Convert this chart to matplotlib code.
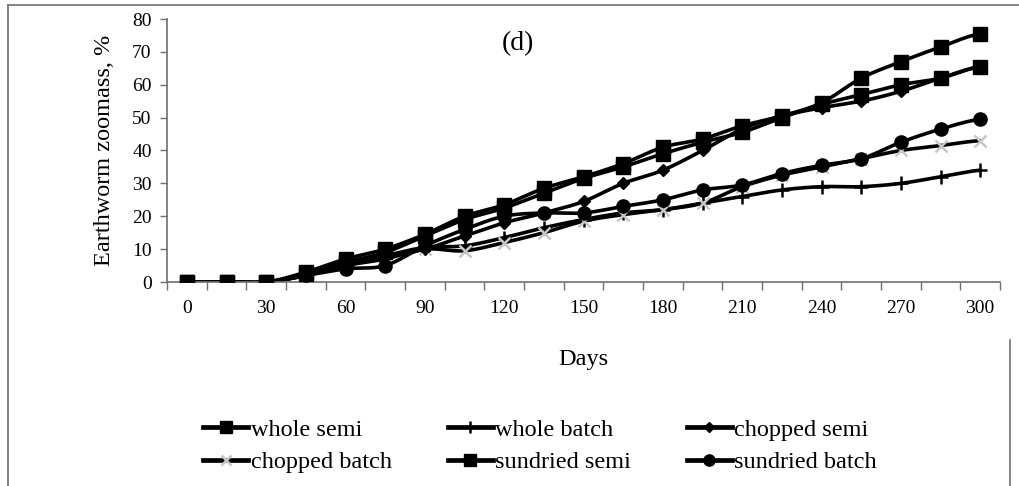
import numpy as np
import matplotlib
matplotlib.use("Agg")
import matplotlib.pyplot as plt
from matplotlib.lines import Line2D

days = list(range(0, 301, 15))
whole_semi = [0, 0, 0, 3, 7, 10, 14.5, 20, 23.5, 28.5, 32, 36, 41, 43.5, 47.5, 50.5, 54.5, 62, 67, 71.5, 75.5]
whole_batch = [0, 0, 0, 2, 5, 8, 10.5, 11, 13.5, 16.5, 19, 21, 22, 24, 26, 28, 29, 29, 30, 32, 34]
chopped_semi = [0, 0, 0, 2, 5, 7.5, 10, 14, 18, 21, 24.5, 30, 34, 40, 46.5, 50.5, 53, 55, 58, 62, 65.5]
chopped_batch = [0, 0, 0, 2, 5, 7, 10, 9.5, 12, 15, 18.5, 20.5, 22, 24, 29, 32.5, 35, 37.5, 40, 41.5, 43]
sundried_semi = [0, 0, 0, 2.5, 6, 9, 14, 19, 22.5, 27, 31.5, 35, 39, 42.5, 45.5, 50, 54, 57, 60, 62, 65.5]
sundried_batch = [0, 0, 0, 2, 4, 5, 11, 16, 20, 21, 21, 23, 25, 28, 29.5, 33, 35.5, 37.5, 42.5, 46.5, 49.5]
labels = ["whole semi", "whole batch", "chopped semi", "chopped batch", "sundried semi", "sundried batch"]

plt.rcParams['font.family'] = ['Liberation Serif', 'DejaVu Serif']

def smooth(x, y, n=20):
    x = np.asarray(x, float); y = np.asarray(y, float)
    px = np.concatenate([[2 * x[0] - x[1]], x, [2 * x[-1] - x[-2]]])
    py = np.concatenate([[y[0]], y, [y[-1]]])
    xs, ys = [], []
    t = np.linspace(0, 1, n, endpoint=False)
    for i in range(1, len(px) - 2):
        p0, p1, p2, p3 = [np.array([px[j], py[j]]) for j in (i - 1, i, i + 1, i + 2)]
        c1 = p1 + (p2 - p0) / 6
        c2 = p2 - (p3 - p1) / 6
        b = ((1 - t) ** 3)[:, None] * p1 + (3 * (1 - t) ** 2 * t)[:, None] * c1 + \
            (3 * (1 - t) * t ** 2)[:, None] * c2 + (t ** 3)[:, None] * p2
        xs.extend(b[:, 0]); ys.extend(b[:, 1])
    xs.append(x[-1]); ys.append(y[-1])
    return np.array(xs), np.array(ys)

W, H = 1019, 486
fig = plt.figure(figsize=(W / 100, H / 100), dpi=100)
ax = fig.add_axes([167 / W, 1 - 282 / H, (1000 - 167) / W, (282 - 19) / H])

series = [whole_semi, whole_batch, chopped_semi, chopped_batch, sundried_semi, sundried_batch]
styles = [
    dict(marker='s', ms=10, mfc='black', mec='black'),
    dict(marker='+', ms=10, mew=1.8, mfc='black', mec='black'),
    dict(marker='D', ms=6.5, mfc='black', mec='black'),
    dict(marker='x', ms=8, mew=1.8, mfc='#c8c8c8', mec='#c8c8c8'),
    dict(marker='s', ms=10, mfc='black', mec='black'),
    dict(marker='o', ms=9.5, mfc='black', mec='black'),
]
lw = 2.6
handles = []
for vals, st, lab in zip(series, styles, labels):
    sx, sy = smooth(days, vals)
    ax.plot(sx, sy, color='black', lw=lw, solid_capstyle='round', zorder=2)
    ax.plot(days, vals, ls='none', zorder=3, **st)
    hst = dict(st)
    hst['ms'] = st['ms'] * 0.85
    handles.append(Line2D([0], [0], color='black', lw=lw * 1.3, **hst))

ax.set_xlim(-7.5, 307.5)
ax.set_ylim(0, 80)
ax.set_yticks(range(0, 81, 10))
ax.set_xticks(range(0, 301, 30))
ax.set_xticks(np.arange(-7.5, 308, 15), minor=True)
ax.tick_params(axis='x', which='major', length=0, pad=13, labelsize=14)
ax.tick_params(axis='x', which='minor', length=6, width=1, color='#707070', direction='out')
ax.tick_params(axis='y', length=5, width=1, color='#707070', pad=6, labelsize=14)
for s in ('top', 'right'):
    ax.spines[s].set_visible(False)
for s in ('left', 'bottom'):
    ax.spines[s].set_color('#707070')
    ax.spines[s].set_linewidth(1.2)

ax.set_xlabel('Days', fontsize=17.5, labelpad=23)
ax.set_ylabel('Earthworm zoomass, %', fontsize=17.5, labelpad=12)
fig.text(518 / W, 1 - 44 / H, '(d)', ha='center', va='center', fontsize=20)

order = [0, 3, 1, 4, 2, 5]
fig.legend([handles[i] for i in order], [labels[i] for i in order], loc='center',
           bbox_to_anchor=(540 / W, 1 - 446 / H), ncol=3,
           frameon=False, fontsize=17.5, handlelength=1.85, handletextpad=0.1,
           columnspacing=2.3, labelspacing=0.45, borderpad=0)

border = dict(color='#707070', lw=1.2, transform=fig.transFigure)
fig.add_artist(Line2D([8 / W, 8 / W], [0, 1 - 5 / H], **border))
fig.add_artist(Line2D([8 / W, 1], [1 - 5 / H, 1 - 5 / H], **border))
fig.add_artist(Line2D([1010 / W, 1010 / W], [0, 1 - 340 / H], **border))

fig.savefig('out.png', dpi=100)
